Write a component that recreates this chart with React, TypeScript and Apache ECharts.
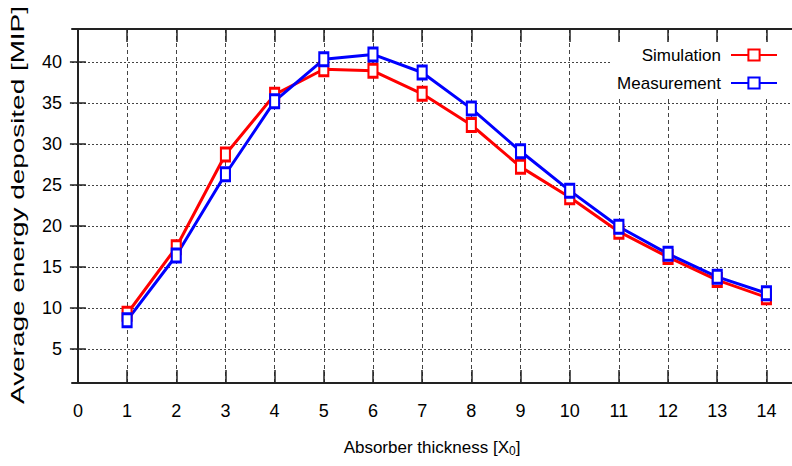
import React, { useEffect, useRef } from "react";
import * as echarts from "echarts";

const thickness = [1, 2, 3, 4, 5, 6, 7, 8, 9, 10, 11, 12, 13, 14];
const simulation = [9.3, 17.4, 28.7, 36.0, 39.1, 38.9, 36.1, 32.3, 27.2, 23.5, 19.3, 16.2, 13.4, 11.3];
const measurement = [8.5, 16.4, 26.3, 35.2, 40.3, 40.9, 38.7, 34.3, 29.1, 24.3, 19.9, 16.6, 13.8, 11.8];
const xTicks = [0, 1, 2, 3, 4, 5, 6, 7, 8, 9, 10, 11, 12, 13, 14];
const yTicks = [5, 10, 15, 20, 25, 30, 35, 40];

const FONT = "'Liberation Sans Narrow', 'Arial Narrow', 'Liberation Sans', Arial, sans-serif";

export default function App() {
  const ref = useRef<HTMLDivElement>(null);
  useEffect(() => {
    document.body.style.margin = "0";
    const chart = echarts.init(ref.current!, null, { renderer: "svg" });
    const axisLine = { show: true, lineStyle: { color: "#222", width: 2 } };
    const symbolFor = (c: string) => ({
      symbol: "rect",
      symbolSize: [9, 13],
      itemStyle: { color: "#fff", borderColor: c, borderWidth: 2.5 },
      lineStyle: { color: c, width: 3 },
    });
    chart.setOption({
      animation: false,
      backgroundColor: "#fff",
      grid: { left: 72, right: 0, top: 29, bottom: 83 },
      legend: {
        orient: "vertical",
        right: 0,
        top: 43,
        align: "right",
        padding: [2, 14, 5, 7],
        backgroundColor: "#fff",
        itemWidth: 46,
        itemHeight: 14,
        itemGap: 8,
        textStyle: { fontFamily: FONT, fontSize: 17, color: "#000", lineHeight: 20, padding: [0, 5, 0, 0] },
        data: ["Simulation", "Measurement"],
      },
      xAxis: [
        {
          type: "value",
          min: -0.12,
          max: 14.52,
          position: "bottom",
          axisLine,
          axisTick: { show: true, inside: true, length: 13, customValues: xTicks, lineStyle: { color: "#222", width: 1.5 } },
          axisLabel: { customValues: xTicks, fontFamily: FONT, fontSize: 18, color: "#000", margin: 19 },
          splitLine: { show: true, lineStyle: { color: "#444", width: 1, type: [4, 3] } },
          name: "Absorber thickness [X{sub|0}]",
          nameLocation: "middle",
          nameGap: 54,
          nameTextStyle: {
            fontFamily: FONT,
            fontSize: 17,
            color: "#000",
            rich: { sub: { fontFamily: FONT, fontSize: 12, color: "#000", verticalAlign: "bottom", padding: [8, 0, 0, 0] } },
          },
        },
        {
          type: "value",
          min: -0.12,
          max: 14.52,
          position: "top",
          axisLine,
          axisTick: { show: true, inside: true, length: 13, customValues: xTicks, lineStyle: { color: "#222", width: 1.5 } },
          axisLabel: { show: false },
          splitLine: { show: false },
        },
      ],
      yAxis: [
        {
          type: "value",
          min: 0.86,
          max: 44,
          position: "left",
          axisLine,
          axisTick: { show: true, inside: true, length: 8, customValues: yTicks, lineStyle: { color: "#222", width: 1.5 } },
          axisLabel: { customValues: yTicks, fontFamily: FONT, fontSize: 18, color: "#000", margin: 10 },
          splitLine: { show: true, lineStyle: { color: "#444", width: 1, type: [2, 2] } },
        },
        {
          type: "value",
          min: 0.86,
          max: 44,
          position: "right",
          axisLine,
          axisTick: { show: true, inside: true, length: 8, customValues: yTicks, lineStyle: { color: "#222", width: 1.5 } },
          axisLabel: { show: false },
          splitLine: { show: false },
        },
      ],
      graphic: [
        {
          type: "text",
          x: 18,
          y: 205,
          rotation: Math.PI / 2,
          scaleX: 1.55,
          style: {
            text: "Average energy deposited [MIP]",
            font: "18px 'Liberation Sans', Arial, sans-serif",
            fill: "#000",
            textAlign: "center",
            textVerticalAlign: "middle",
          },
        },
      ],
      series: [
        {
          name: "Simulation",
          type: "line",
          data: thickness.map((t, i) => [t, simulation[i]]),
          ...symbolFor("#ff0000"),
        },
        {
          name: "Measurement",
          type: "line",
          data: thickness.map((t, i) => [t, measurement[i]]),
          ...symbolFor("#0000ff"),
        },
      ],
    });
    return () => chart.dispose();
  }, []);
  return <div ref={ref} style={{ width: 792, height: 466 }} />;
}
